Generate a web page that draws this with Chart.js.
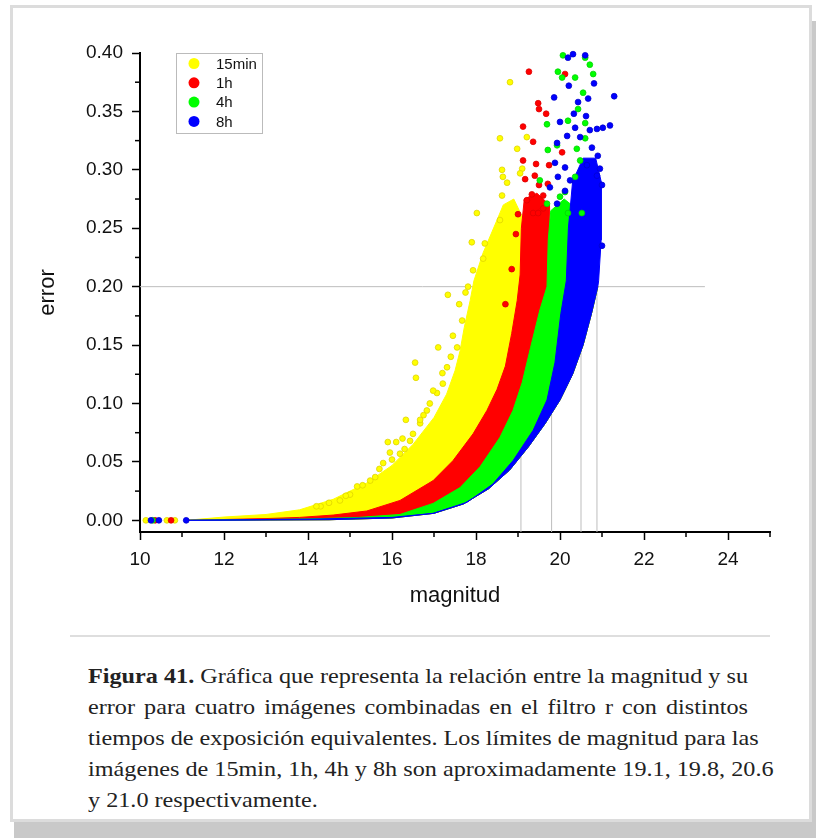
<!DOCTYPE html>
<html>
<head>
<meta charset="utf-8">
<script src="https://cdn.jsdelivr.net/npm/chart.js@4.4.1/dist/chart.umd.min.js"></script>
<style>
  body { margin: 0; background: #fff; width: 816px; height: 838px; overflow: hidden; position: relative; }
  .frame { position: absolute; left: 10px; top: 5px; width: 796px; height: 811px;
           border: 3px solid #dcdcdc; background: #fff; box-shadow: 4px 16px 0 #c9c9c9; }
  #plot { position: absolute; left: 0; top: 0; }
  .rule { position: absolute; left: 70px; top: 635px; width: 700px; height: 2px; background: #dedede; }
  .caption { position: absolute; left: 88px; top: 660px; width: 600px; transform: scaleX(1.1);
             transform-origin: left top; font-family: "Liberation Serif", "Times New Roman", serif;
             font-size: 22px; line-height: 31px; color: #222; }
  .caption div { text-align: justify; text-align-last: justify; white-space: nowrap; }
  .caption div.last { text-align-last: left; }
</style>
</head>
<body>
<div class="frame"></div>
<canvas id="plot" width="816" height="620"></canvas>
<div class="rule"></div>
<div class="caption">
  <div><b>Figura 41.</b> Gráfica que representa la relación entre la magnitud y su</div>
  <div>error para cuatro imágenes combinadas en el filtro r con distintos</div>
  <div>tiempos de exposición equivalentes. Los límites de magnitud para las</div>
  <div>imágenes de 15min, 1h, 4h y 8h son aproximadamente 19.1, 19.8, 20.6</div>
  <div class="last">y 21.0 respectivamente.</div>
</div>
<script>
// axes
const magTicks = [10, 12, 14, 16, 18, 20, 22, 24];
const magMinor = [11, 13, 15, 17, 19, 21, 23, 25];
const errTicks = [0, 0.05, 0.10, 0.15, 0.20, 0.25, 0.30, 0.35, 0.40];
const errMinor = [0.025, 0.075, 0.125, 0.175, 0.225, 0.275, 0.325, 0.375];

const seriesNames = ['15min', '1h', '4h', '8h'];
const seriesColors = ['#ffff00', '#ff0000', '#00ff00', '#0000ff'];
const seriesEdges = ['#e0d400', '#dd0000', '#00d400', '#0000d0'];

// dense clouds: upper-left envelope of each exposure
const edge15minMag = [11.1, 12.0, 13.0, 13.8, 14.6, 15.4, 16.0, 16.5, 17.0, 17.3, 17.5, 17.62, 17.72, 17.86, 17.95, 18.17, 18.5, 18.65, 18.9, 19.1, 19.07];
const edge15minErr = [0, 0.0028, 0.005, 0.009, 0.018, 0.032, 0.047, 0.065, 0.088, 0.108, 0.128, 0.145, 0.165, 0.188, 0.205, 0.229, 0.257, 0.270, 0.275, 0.260, 0.200];
const edge1hMag = [11.1, 13.0, 13.8, 14.6, 15.4, 16.19, 16.98, 17.45, 17.93, 18.26, 18.5, 18.7, 18.85, 18.98, 19.05, 19.08, 19.15, 19.45, 19.75, 19.8];
const edge1hErr = [0, 0.0015, 0.0025, 0.0045, 0.008, 0.017, 0.034, 0.051, 0.074, 0.094, 0.112, 0.132, 0.160, 0.188, 0.210, 0.250, 0.275, 0.280, 0.270, 0.200];
const edge4hMag = [11.1, 14.0, 15.2, 16.19, 16.98, 17.62, 18.1, 18.57, 18.88, 19.1, 19.3, 19.52, 19.69, 19.72, 19.78, 20.1, 20.45, 20.5];
const edge4hErr = [0, 0.0012, 0.0025, 0.005, 0.0145, 0.028, 0.046, 0.071, 0.094, 0.118, 0.148, 0.180, 0.200, 0.240, 0.265, 0.275, 0.265, 0.200];
const edge8hMag = [11.1, 14.0, 16.0, 16.98, 17.79, 18.4, 18.88, 19.36, 19.69, 19.88, 20.02, 20.15, 20.2, 20.3, 20.55, 20.85, 20.98, 20.98, 20.92];
const edge8hErr = [0, 0.001, 0.0025, 0.006, 0.0155, 0.031, 0.051, 0.077, 0.103, 0.135, 0.177, 0.205, 0.250, 0.290, 0.310, 0.310, 0.290, 0.240, 0.205];
// lower-right boundary of all clouds (8h lower edge), from top down
const lowerMag = [20.9, 20.75, 20.55, 20.3, 20.0, 19.65, 19.25, 18.8, 18.3, 17.7, 17.0, 16.0, 14.5, 11.1];
const lowerErr = [0.200, 0.177, 0.150, 0.125, 0.103, 0.083, 0.063, 0.043, 0.027, 0.014, 0.006, 0.002, 0.0005, 0];

// scattered stars outside the dense clouds
const pts15minMag = [10.14, 10.64, 10.83, 18.81, 18.57, 18.98, 19.21, 18.62, 18.64, 19.1, 19.05, 18.74, 18.62, 18.02, 18.57, 17.9, 18.21, 18.17, 17.93, 17.81,
  17.33, 16.55, 16.57, 17.1, 16.33, 15.9, 16.1, 15.17, 17.67, 14.76, 15.48, 15.79, 16.19, 16.43, 16.67, 16.83, 17.07, 17.21, 15.0, 14.3,
  14.2, 14.5, 14.9, 15.3, 15.6, 15.7, 16.0, 16.3, 16.5, 16.75, 16.9, 16.98, 17.2, 17.31, 17.45, 17.55, 16.67, 15.95, 16.25, 17.4, 17.6, 17.75];
const pts15minErr = [0, 0, 0, 0.375, 0.327, 0.318, 0.328, 0.300, 0.294, 0.301, 0.297, 0.289, 0.278, 0.263, 0.257, 0.238, 0.237, 0.224, 0.214, 0.200,
  0.193, 0.135, 0.122, 0.148, 0.086, 0.067, 0.067, 0.029, 0.171, 0.017, 0.034, 0.049, 0.057, 0.068, 0.083, 0.094, 0.109, 0.117, 0.022, 0.012,
  0.012, 0.015, 0.021, 0.030, 0.037, 0.044, 0.052, 0.061, 0.074, 0.090, 0.100, 0.111, 0.126, 0.131, 0.158, 0.148, 0.086, 0.058, 0.070, 0.140, 0.185, 0.195];
const pts1hMag = [10.36, 10.74, 19.26, 20.12, 19.48, 19.5, 19.67, 19.12, 19.36, 19.12, 19.43, 19.74, 19.17, 19.4, 20.05, 19.5, 19.71, 19.6, 19.33, 19.36, 19.48, 19.6, 19.21,
  18.85, 18.95, 18.7, 19.0];
const pts1hErr = [0, 0, 0.384, 0.382, 0.357, 0.352, 0.348, 0.337, 0.324, 0.308, 0.305, 0.304, 0.292, 0.295, 0.315, 0.287, 0.288, 0.278, 0.279, 0.263, 0.263, 0.267, 0.274,
  0.215, 0.245, 0.185, 0.262];
const pts4hMag = [10.3, 20.07, 20.6, 20.71, 19.95, 20.05, 20.36, 20.79, 20.55, 20.43, 20.19, 19.69, 20.6, 20.6, 19.71, 19.93, 20.4, 20.48, 19.52, 20.12, 19.69, 20.0, 20.36, 20.19, 20.52];
const pts4hErr = [0, 0.398, 0.396, 0.390, 0.384, 0.379, 0.379, 0.382, 0.366, 0.352, 0.342, 0.339, 0.340, 0.327, 0.317, 0.321, 0.318, 0.308, 0.291, 0.281, 0.271, 0.277, 0.294, 0.263, 0.263];
const pts8hMag = [10.26, 10.45, 11.1, 20.19, 20.31, 20.6, 20.21, 20.81, 19.86, 20.67, 20.43, 21.29, 20.33, 20.62, 20.0, 20.36, 20.71, 21.02, 21.19, 20.88, 20.17, 20.48,
  19.93, 20.76, 20.9, 19.88, 20.12, 20.64, 20.95, 19.95, 20.24, 20.88, 19.76, 20.12, 21.0, 19.93, 21.0];
const pts8hErr = [0, 0, 0, 0.396, 0.399, 0.398, 0.372, 0.374, 0.362, 0.361, 0.358, 0.363, 0.348, 0.346, 0.341, 0.336, 0.334, 0.336, 0.338, 0.335, 0.329, 0.328,
  0.323, 0.319, 0.312, 0.306, 0.302, 0.304, 0.301, 0.294, 0.291, 0.295, 0.285, 0.282, 0.287, 0.271, 0.235];

// limiting magnitudes at error 0.20
const limitErr = 0.20;
const limitMag = [19.07, 19.8, 20.5, 20.88];
const refLineEnd = 23.45;

const zip = (xs, ys) => xs.map((x, i) => ({x: x, y: ys[i]}));

const edges = [[edge15minMag, edge15minErr], [edge1hMag, edge1hErr], [edge4hMag, edge4hErr], [edge8hMag, edge8hErr]];
const points = [[pts15minMag, pts15minErr], [pts1hMag, pts1hErr], [pts4hMag, pts4hErr], [pts8hMag, pts8hErr]];

const datasets = [];
// reference lines, behind everything
datasets.push({
  type: 'line', data: [{x: magTicks[0], y: limitErr}, {x: refLineEnd, y: limitErr}],
  borderColor: '#bdbdbd', borderWidth: 1, pointRadius: 0, fill: false, order: 20
});
limitMag.forEach(m => {
  datasets.push({
    type: 'line', data: [{x: m, y: -0.01}, {x: m, y: limitErr}],
    borderColor: '#bdbdbd', borderWidth: 1, pointRadius: 0, fill: false, order: 20
  });
});
// dense clouds as filled shapes
edges.forEach((e, i) => {
  datasets.push({
    type: 'line', label: seriesNames[i],
    data: zip(e[0].concat(lowerMag), e[1].concat(lowerErr)),
    fill: 'shape', backgroundColor: seriesColors[i], borderColor: seriesColors[i],
    borderWidth: 1, pointRadius: 0, order: 15 - i
  });
});
// scattered points
points.forEach((p, i) => {
  datasets.push({
    type: 'scatter', label: seriesNames[i], data: zip(p[0], p[1]),
    backgroundColor: seriesColors[i], borderColor: seriesEdges[i], borderWidth: 0.8,
    pointRadius: 2.9, clip: false, order: 8 - i
  });
});

const minorTicks = {
  id: 'minorTicks',
  afterDraw(chart) {
    const {ctx, chartArea, scales} = chart;
    ctx.save();
    ctx.strokeStyle = '#000';
    ctx.lineWidth = 1.5;
    magMinor.forEach(v => {
      const px = scales.x.getPixelForValue(v);
      ctx.beginPath(); ctx.moveTo(px, chartArea.bottom); ctx.lineTo(px, chartArea.bottom + 5); ctx.stroke();
    });
    errMinor.forEach(v => {
      const py = scales.y.getPixelForValue(v);
      ctx.beginPath(); ctx.moveTo(chartArea.left - 5, py); ctx.lineTo(chartArea.left, py); ctx.stroke();
    });
    ctx.restore();
  }
};

const boxLegend = {
  id: 'boxLegend',
  afterDraw(chart) {
    const ctx = chart.ctx;
    ctx.save();
    ctx.fillStyle = '#fff';
    ctx.fillRect(176, 53, 86, 80);
    ctx.strokeStyle = '#bbb';
    ctx.lineWidth = 1;
    ctx.strokeRect(176.5, 53.5, 86, 80);
    ctx.font = '15px "Liberation Sans", Arial, sans-serif';
    ctx.textBaseline = 'middle';
    seriesNames.forEach((name, i) => {
      const cy = 63.5 + i * 19.3;
      ctx.beginPath();
      ctx.arc(194, cy, 5.5, 0, Math.PI * 2);
      ctx.fillStyle = seriesColors[i];
      ctx.fill();
      ctx.fillStyle = '#111';
      ctx.fillText(name, 216, cy + 1);
    });
    ctx.restore();
  }
};

const tickFont = {family: '"Liberation Sans", Arial, sans-serif', size: 19};
const titleFont = {family: '"Liberation Sans", Arial, sans-serif', size: 22};

new Chart(document.getElementById('plot'), {
  type: 'scatter',
  data: {datasets},
  options: {
    responsive: false,
    animation: false,
    devicePixelRatio: 1,
    layout: {padding: {top: 53, right: 46, left: 0, bottom: 0}},
    plugins: {legend: {display: false}, tooltip: {enabled: false}},
    scales: {
      x: {
        type: 'linear', min: 10, max: 25,
        afterBuildTicks: s => { s.ticks = magTicks.map(v => ({value: v})); },
        afterFit: s => { s.height = 88; },
        ticks: {font: tickFont, color: '#111', padding: 8, maxRotation: 0, autoSkip: false},
        grid: {drawOnChartArea: false, tickLength: 8, tickColor: '#000', tickWidth: 1.5},
        border: {color: '#000', width: 2},
        title: {display: true, text: 'magnitud', font: titleFont, color: '#111', padding: {top: 0, bottom: 11}}
      },
      y: {
        type: 'linear', min: -0.01, max: 0.40,
        afterBuildTicks: s => { s.ticks = errTicks.map(v => ({value: v})); },
        afterFit: s => { s.width = 140; },
        ticks: {font: tickFont, color: '#111', padding: 9, callback: v => v.toFixed(2)},
        grid: {drawOnChartArea: false, tickLength: 8, tickColor: '#000', tickWidth: 1.5},
        border: {color: '#000', width: 2},
        title: {display: true, text: 'error', font: titleFont, color: '#111', padding: {top: 35, bottom: 0}}
      }
    }
  },
  plugins: [minorTicks, boxLegend]
});
</script>
</body>
</html>
